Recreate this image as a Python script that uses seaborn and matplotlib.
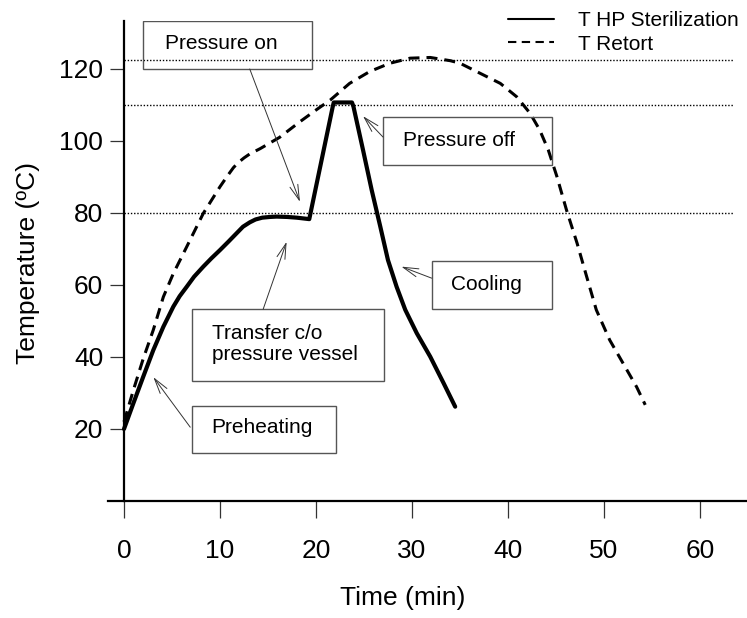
import matplotlib
matplotlib.use("Agg")
import matplotlib.pyplot as plt
from matplotlib.lines import Line2D
from matplotlib.patches import Rectangle
import seaborn as sns
import pandas as pd

# Product temperature during high-pressure sterilization (min, degC)
hp_time = [0.0, 0.97, 2.0, 3.05, 4.1, 5.14, 5.8, 6.53, 7.3, 8.26, 9.1, 10.0, 10.9,
           11.74, 12.4, 13.1, 13.7, 14.4, 15.2, 15.9, 17.0, 18.0, 19.3, 21.75, 21.85,
           23.75, 23.9, 24.9, 25.8, 26.7, 27.5, 28.0, 28.4, 29.3, 30.5, 31.9, 33.3, 34.5]
hp_temp = [20.0, 27.1, 34.5, 41.9, 48.4, 54.0, 56.9, 59.5, 62.3, 65.1, 67.4, 69.7, 72.1,
           74.4, 76.2, 77.4, 78.2, 78.7, 78.9, 79.0, 78.9, 78.7, 78.3, 109.6, 110.7,
           110.7, 109.6, 97.5, 86.4, 76.2, 66.9, 62.8, 59.5, 53.1, 46.6, 40.1, 32.7, 26.2]

# Product temperature during conventional retort processing
retort_time = [0.0, 1.0, 2.0, 3.05, 4.1, 5.14, 6.53, 8.26, 10.0, 10.8, 11.4, 11.9, 12.5,
               13.1, 14.2, 16.2, 18.3, 20.0, 21.5, 23.5, 25.6, 27.7, 29.8, 31.9, 34.0,
               35.0, 37.1, 39.2, 40.9, 42.3, 43.3, 44.2, 45.1, 46.1, 47.2, 48.2,
               49.2, 50.6, 52.0, 53.4, 54.3]
retort_temp = [22.0, 31.0, 39.5, 47.5, 56.7, 63.2, 70.6, 79.9, 87.3, 90.4, 92.6, 94.0, 95.3,
               96.4, 97.9, 101.0, 105.3, 108.6, 111.4, 116.0, 119.3, 121.6, 123.0, 123.2, 122.3,
               121.6, 118.8, 116.0, 112.3, 107.7, 103.1, 97.5, 90.1, 80.8, 71.6, 62.3,
               53.1, 44.7, 38.2, 31.7, 26.7]

series_names = ["T HP Sterilization", "T Retort"]
reference_levels = [80, 110, 122.5]
x_ticks = [0, 10, 20, 30, 40, 50, 60]
y_ticks = [20, 40, 60, 80, 100, 120]

hp_df = pd.DataFrame({"time": hp_time, "temp": hp_temp})
retort_df = pd.DataFrame({"time": retort_time, "temp": retort_temp})

sns.set_theme(style="white")
plt.rcParams["font.family"] = ["Liberation Sans", "DejaVu Sans"]
plt.rcParams.update({"text.color": "black", "axes.labelcolor": "black",
                     "xtick.color": "black", "ytick.color": "black"})

W, H = 747, 618
fig = plt.figure(figsize=(W / 100, H / 100), dpi=100)
ax = fig.add_axes([108 / W, 117 / H, 639 / W, 480 / H])

# horizontal reference temperatures
ax.hlines(reference_levels, 0, 63.4, colors="black", linewidth=1.0,
          linestyles=[(0, (1, 1.3))], zorder=1)

sns.lineplot(data=hp_df, x="time", y="temp", ax=ax, color="black", linewidth=3.0,
             estimator=None, sort=False, zorder=3, solid_joinstyle="round")
sns.lineplot(data=retort_df, x="time", y="temp", ax=ax, color="black", linewidth=2.2,
             linestyle=(0, (3.6, 2.3)), estimator=None, sort=False, zorder=3)

ax.set_xlim(-1.667, 64.9)
ax.set_ylim(0, 133.33)
ax.set_xticks(x_ticks)
ax.set_yticks(y_ticks)
ax.tick_params(axis="x", direction="out", length=12, width=0.9, color="#333333",
               labelsize=19, pad=15, bottom=True, labelcolor="black")
ax.tick_params(axis="y", direction="out", length=10, width=0.9, color="#333333",
               labelsize=19, pad=5, left=True, labelcolor="black")

for side in ("top", "right"):
    ax.spines[side].set_visible(False)
ax.spines["left"].set_position(("data", 0))
for side in ("left", "bottom"):
    ax.spines[side].set_linewidth(1.6)
    ax.spines[side].set_color("black")

ax.set_xlabel("Time (min)", fontsize=19, va="center", ha="center")
ax.set_ylabel("Temperature (ºC)", fontsize=19, va="center", ha="center")
ax.xaxis.set_label_coords((402.5 - 108) / 639, (501 - 598) / 480)
ax.yaxis.set_label_coords((28 - 108) / 639, 0.496)

# annotation boxes: (text, x0, x1, y_bottom, y_top, text_x, text_y)
boxes = [
    ("Pressure on", 1.98, 19.6, 120.0, 133.3, 4.27, 127.2),
    ("Pressure off", 26.98, 44.58, 93.3, 106.7, 29.06, 100.1),
    ("Cooling", 32.05, 44.55, 53.3, 66.7, 34.1, 60.0),
    ("Transfer c/o\npressure vessel", 7.05, 27.08, 33.3, 53.25, 9.14, 43.6),
    ("Preheating", 7.05, 22.08, 13.25, 26.5, 9.14, 20.4),
]
for text, x0, x1, y0, y1, tx, ty in boxes:
    ax.add_patch(Rectangle((x0, y0), x1 - x0, y1 - y0, facecolor="none",
                           edgecolor="#555555", linewidth=1.0, zorder=4))
    ax.text(tx, ty, text, fontsize=15, ha="left", va="center",
            linespacing=1.1, color="black", zorder=5)

# arrows from each box to the phase they describe: (tail, head)
arrows = [
    ((13.1, 120.0), (18.33, 83.1)),
    ((26.98, 101.1), (24.9, 106.9)),
    ((32.05, 61.9), (28.9, 65.1)),
    ((14.5, 53.3), (16.94, 72.0)),
    ((6.9, 20.5), (3.06, 34.4)),
]
for tail, head in arrows:
    ax.annotate("", xy=head, xytext=tail,
                arrowprops=dict(arrowstyle="->, head_length=1.1, head_width=0.3",
                                mutation_scale=10, color="#333333", lw=0.7,
                                shrinkA=0, shrinkB=0), zorder=5)

handles = [Line2D([], [], color="black", linewidth=1.5),
           Line2D([], [], color="black", linewidth=1.5, linestyle=(0, (4, 2.6)))]
fig.legend(handles, series_names, loc="upper left",
           bbox_to_anchor=(508 / W, 1 - 11 / H), bbox_transform=fig.transFigure,
           frameon=False, fontsize=15, handlelength=2.2, handletextpad=1.15,
           labelspacing=0.22, borderpad=0, borderaxespad=0)

fig.savefig("out.png", dpi=100)
